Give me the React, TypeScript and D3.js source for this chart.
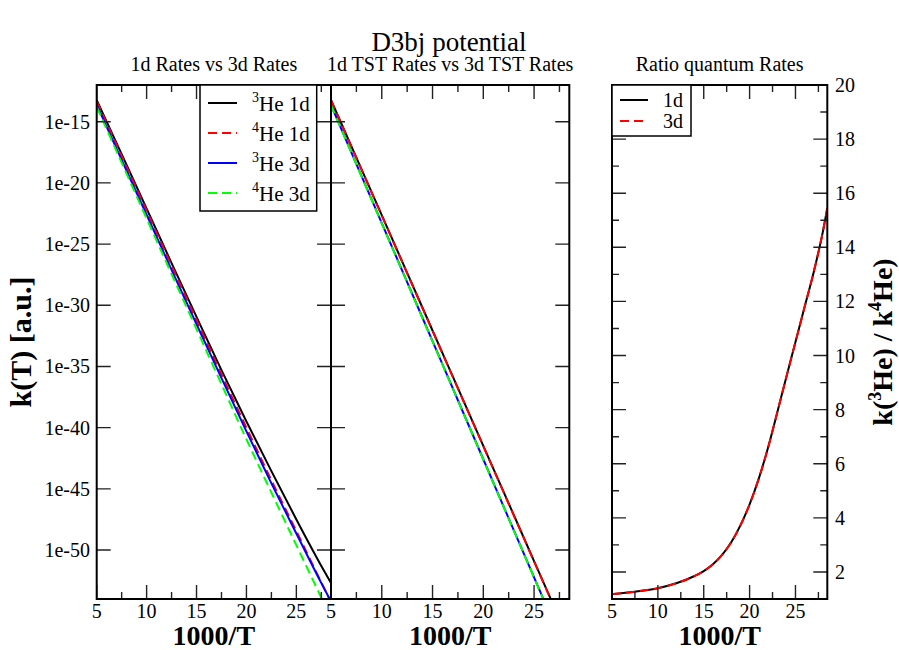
import React from 'react';
import * as d3 from 'd3';

// 1000/T grid for the rate panels
const invT = [5, 7.5, 10, 12.5, 15, 17.5, 20, 22.5, 25, 27.5, 28.47];

// Panel 1: quantum rates, log10 k(T)
const q_he3_1d = [-13.22, -17.65, -22.1, -26.55, -30.95, -35.3, -39.5, -43.55, -47.5, -51.3, -52.7];
const q_he4_1d = [-13.33, -17.8, -22.27, -26.75, -31.2, -35.65, -40.0, -44.3, -48.45, -52.65, -54.25];
const q_he3_3d = [-13.62, -18.12, -22.6, -27.1, -31.55, -35.95, -40.3, -44.55, -48.65, -52.7, -54.2];
const q_he4_3d = [-13.78, -18.35, -22.9, -27.45, -31.95, -36.45, -40.95, -45.3, -49.6, -53.9, -55.6];

// Panel 2: TST rates, log10 k(T)
const tst_he3_1d = [-13.22, -17.93, -22.64, -27.35, -32.06, -36.77, -41.48, -46.19, -50.9, -55.61, -57.44];
const tst_he4_1d = [-13.25, -17.96, -22.67, -27.38, -32.09, -36.8, -41.51, -46.22, -50.93, -55.64, -57.47];
const tst_he3_3d = [-13.63, -18.46, -23.28, -28.11, -32.93, -37.76, -42.58, -47.41, -52.23, -57.06, -58.93];
const tst_he4_3d = [-13.65, -18.48, -23.3, -28.13, -32.95, -37.78, -42.6, -47.43, -52.25, -57.08, -58.95];

// Panel 3: ratio k(3He)/k(4He)
const ratioInvT = [5, 7.5, 10, 12, 14, 15, 16, 17, 18, 19, 20, 21, 22, 23, 24, 25, 26, 27, 28, 28.47];
const ratio_1d = [1.18, 1.27, 1.4, 1.58, 1.85, 2.03, 2.28, 2.63, 3.1, 3.72, 4.5, 5.45, 6.58, 7.88, 9.2, 10.5, 11.8, 13.1, 14.6, 15.45];
const ratio_3d = [1.18, 1.27, 1.4, 1.58, 1.85, 2.03, 2.28, 2.63, 3.1, 3.72, 4.5, 5.45, 6.58, 7.88, 9.2, 10.5, 11.8, 13.1, 14.6, 15.45];

const xMajorTicks = [5, 10, 15, 20, 25];
const xMinorTicks = [7.5, 12.5, 17.5, 22.5, 27.5];
const logTickExps = [-15, -20, -25, -30, -35, -40, -45, -50];
const logTickLabels = ['1e-15', '1e-20', '1e-25', '1e-30', '1e-35', '1e-40', '1e-45', '1e-50'];
const ratioMajorTicks = [2, 4, 6, 8, 10, 12, 14, 16, 18, 20];
const ratioMinorTicks = [3, 5, 7, 9, 11, 13, 15, 17, 19];

const FONT = '"Liberation Serif", "Times New Roman", Times, serif';
const TOP = 85;
const BOTTOM = 599;
const MAJ = 14;
const MIN = 7;

type Series = { vals: number[]; color: string; dash?: string };

function Panel(props: {
  id: string;
  x0: number;
  x1: number;
  xVals: number[];
  yScale: (v: number) => number;
  yMajor: number[];
  yMinor: number[];
  series: Series[];
  isLog: boolean;
}) {
  const { id, x0, x1, xVals, yScale, yMajor, yMinor, series, isLog } = props;
  const xs = d3.scaleLinear().domain([5, 28.47]).range([x0, x1]);
  const line = d3
    .line<number>()
    .x((_, i) => xs(xVals[i]))
    .y((v) => yScale(isLog ? Math.pow(10, v) : v))
    .curve(d3.curveMonotoneX);
  const ticks: string[] = [];
  xMajorTicks.forEach((t) => {
    const x = xs(t);
    ticks.push(`M${x},${BOTTOM}V${BOTTOM - MAJ}M${x},${TOP}V${TOP + MAJ}`);
  });
  xMinorTicks.forEach((t) => {
    const x = xs(t);
    ticks.push(`M${x},${BOTTOM}V${BOTTOM - MIN}M${x},${TOP}V${TOP + MIN}`);
  });
  yMajor.forEach((t) => {
    const y = yScale(t);
    ticks.push(`M${x0},${y}H${x0 + MAJ}M${x1},${y}H${x1 - MAJ}`);
  });
  yMinor.forEach((t) => {
    const y = yScale(t);
    ticks.push(`M${x0},${y}H${x0 + MIN}M${x1},${y}H${x1 - MIN}`);
  });
  return (
    <g>
      <defs>
        <clipPath id={id}>
          <rect x={x0} y={TOP} width={x1 - x0} height={BOTTOM - TOP} />
        </clipPath>
      </defs>
      <g clipPath={`url(#${id})`}>
        {series.map((s, i) => (
          <path
            key={i}
            d={line(s.vals) || ''}
            fill="none"
            stroke={s.color}
            strokeWidth={2}
            strokeDasharray={s.dash}
          />
        ))}
      </g>
      <path d={ticks.join('')} stroke="#222" strokeWidth={1.4} fill="none" />
      <rect x={x0} y={TOP} width={x1 - x0} height={BOTTOM - TOP} fill="none" stroke="#000" strokeWidth={2} />
      {xMajorTicks.map((t) => (
        <text key={t} x={xs(t)} y={618} textAnchor="middle" fontSize={20} fontFamily={FONT}>
          {t}
        </text>
      ))}
      <text x={(x0 + x1) / 2} y={645} textAnchor="middle" fontSize={28} fontWeight="bold" fontFamily={FONT}>
        1000/T
      </text>
    </g>
  );
}

export default function App() {
  const yLog = d3.scaleLog().domain([1e-54, 1e-12]).range([BOTTOM, TOP]);
  const yRatio = d3.scaleLinear().domain([1, 20]).range([BOTTOM, TOP]);
  const logMajor = logTickExps.map((e) => Math.pow(10, e));

  const P1 = [96.7, 331];
  const P2 = [331, 569.3];
  const P3 = [612, 827.3];

  const legend1 = [
    { sup: '3', label: 'He 1d', color: '#000000', dash: undefined },
    { sup: '4', label: 'He 1d', color: '#ff0000', dash: '9,5' },
    { sup: '3', label: 'He 3d', color: '#0000ff', dash: undefined },
    { sup: '4', label: 'He 3d', color: '#00ff00', dash: '9,5' },
  ];
  const legend3 = [
    { label: '1d', color: '#000000', dash: undefined },
    { label: '3d', color: '#ff0000', dash: '9,5' },
  ];

  return (
    <svg
      width={899}
      height={650}
      style={{ position: 'absolute', left: 0, top: 0, background: '#fff' }}
      fontFamily={FONT}
    >
      <rect x={0} y={0} width={899} height={650} fill="#fff" />
      <text x={449} y={51} textAnchor="middle" fontSize={27} fontFamily={FONT}>
        D3bj potential
      </text>
      <text x={(P1[0] + P1[1]) / 2} y={71} textAnchor="middle" fontSize={20} fontFamily={FONT}>
        1d Rates vs 3d Rates
      </text>
      <text x={(P2[0] + P2[1]) / 2} y={71} textAnchor="middle" fontSize={20} fontFamily={FONT}>
        1d TST Rates vs 3d TST Rates
      </text>
      <text x={(P3[0] + P3[1]) / 2} y={71} textAnchor="middle" fontSize={20} fontFamily={FONT}>
        Ratio quantum Rates
      </text>

      <Panel
        id="clip1"
        x0={P1[0]}
        x1={P1[1]}
        xVals={invT}
        yScale={yLog}
        yMajor={logMajor}
        yMinor={[]}
        isLog={true}
        series={[
          { vals: q_he3_1d, color: '#000000' },
          { vals: q_he4_1d, color: '#ff0000', dash: '9,5' },
          { vals: q_he3_3d, color: '#0000ff' },
          { vals: q_he4_3d, color: '#00ff00', dash: '9,5' },
        ]}
      />
      <Panel
        id="clip2"
        x0={P2[0]}
        x1={P2[1]}
        xVals={invT}
        yScale={yLog}
        yMajor={logMajor}
        yMinor={[]}
        isLog={true}
        series={[
          { vals: tst_he3_1d, color: '#000000' },
          { vals: tst_he4_1d, color: '#ff0000', dash: '9,5' },
          { vals: tst_he3_3d, color: '#0000ff' },
          { vals: tst_he4_3d, color: '#00ff00', dash: '9,5' },
        ]}
      />
      <Panel
        id="clip3"
        x0={P3[0]}
        x1={P3[1]}
        xVals={ratioInvT}
        yScale={yRatio}
        yMajor={ratioMajorTicks}
        yMinor={ratioMinorTicks}
        isLog={false}
        series={[
          { vals: ratio_1d, color: '#000000' },
          { vals: ratio_3d, color: '#ff0000', dash: '9,5' },
        ]}
      />

      {logMajor.map((t, i) => (
        <text key={i} x={90} y={yLog(t) + 7} textAnchor="end" fontSize={20} fontFamily={FONT}>
          {logTickLabels[i]}
        </text>
      ))}
      {ratioMajorTicks.map((t) => (
        <text key={t} x={835} y={yRatio(t) + 7} textAnchor="start" fontSize={20} fontFamily={FONT}>
          {t}
        </text>
      ))}

      <text
        transform={`translate(31,342) rotate(-90)`}
        textAnchor="middle"
        fontSize={30}
        fontWeight="bold"
        fontFamily={FONT}
      >
        k(T) [a.u.]
      </text>
      <text
        transform={`translate(892,342) rotate(-90)`}
        textAnchor="middle"
        fontSize={28}
        fontWeight="bold"
        fontFamily={FONT}
      >
        <tspan>k(</tspan>
        <tspan fontSize={18} dy={-11}>3</tspan>
        <tspan dy={11}>He) / k</tspan>
        <tspan fontSize={18} dy={-11}>4</tspan>
        <tspan dy={11}>He)</tspan>
      </text>

      <rect x={200} y={85} width={116.7} height={126} fill="#fff" stroke="#000" strokeWidth={1.5} />
      {legend1.map((e, i) => {
        const y = 103 + i * 30;
        return (
          <g key={i}>
            <line x1={208} x2={237} y1={y} y2={y} stroke={e.color} strokeWidth={2} strokeDasharray={e.dash} />
            <text x={252} y={y + 8} fontSize={21} fontFamily={FONT}>
              <tspan fontSize={14} dy={-9}>{e.sup}</tspan>
              <tspan dy={9}>{e.label}</tspan>
            </text>
          </g>
        );
      })}

      <rect x={612} y={85} width={79} height={51} fill="#fff" stroke="#000" strokeWidth={1.5} />
      {legend3.map((e, i) => {
        const y = 100 + i * 21;
        return (
          <g key={i}>
            <line x1={620} x2={648} y1={y} y2={y} stroke={e.color} strokeWidth={2} strokeDasharray={e.dash} />
            <text x={663} y={y + 7} fontSize={20} fontFamily={FONT}>
              {e.label}
            </text>
          </g>
        );
      })}
    </svg>
  );
}
